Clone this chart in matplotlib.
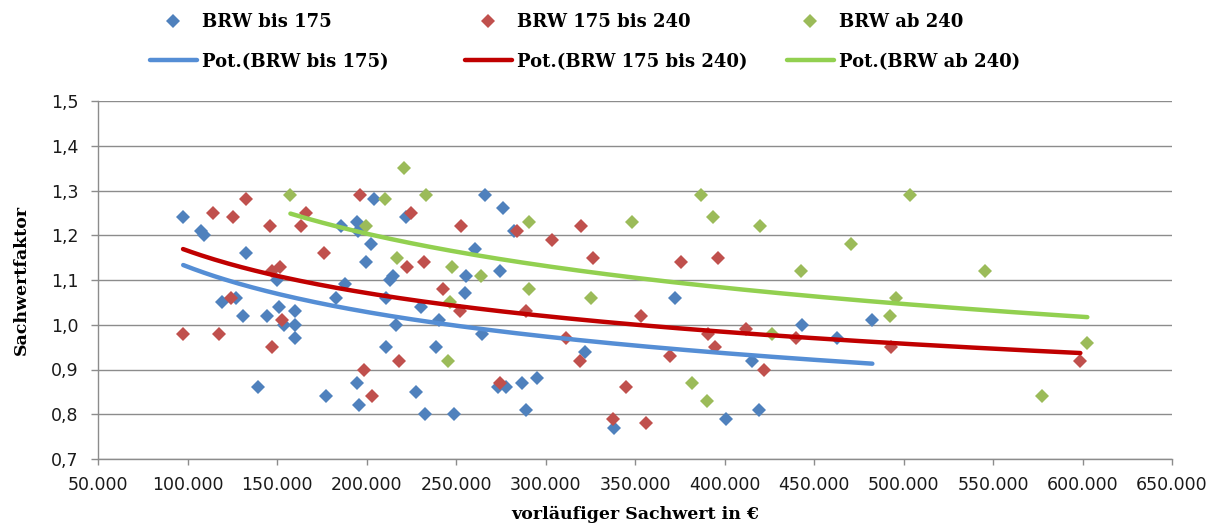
import numpy as np
import matplotlib
matplotlib.use("Agg")
from matplotlib import pyplot as plt
from matplotlib.ticker import FixedLocator, FuncFormatter

# BRW bis 175
x_bis175 = [97600, 107800, 109000, 132900, 150200, 119300, 127300, 131000, 144600, 151000,
            153700, 139400, 159900, 159900, 159900, 177600, 185600, 183200, 187800, 194700,
            195300, 202700, 199900, 194700, 195600, 204000, 210700, 213000, 214800, 216300,
            210700, 227900, 232500, 221900, 230700, 239000, 240500, 248700, 255400, 254900,
            260800, 266400, 276300, 282400, 274400, 264500, 273500, 277800, 287100, 295500,
            289300, 321900, 338100, 372600, 401100, 415600, 419100, 443500, 462900, 482600]
y_bis175 = [1.24, 1.21, 1.20, 1.16, 1.10, 1.05, 1.06, 1.02, 1.02, 1.04,
            1.00, 0.86, 1.03, 1.00, 0.97, 0.84, 1.22, 1.06, 1.09, 1.23,
            1.21, 1.18, 1.14, 0.87, 0.82, 1.28, 1.06, 1.10, 1.11, 1.00,
            0.95, 0.85, 0.80, 1.24, 1.04, 0.95, 1.01, 0.80, 1.11, 1.07,
            1.17, 1.29, 1.26, 1.21, 1.12, 0.98, 0.86, 0.86, 0.87, 0.88,
            0.81, 0.94, 0.77, 1.06, 0.79, 0.92, 0.81, 1.00, 0.97, 1.01]

# BRW 175 bis 240
x_175_240 = [97500, 117600, 114300, 125400, 132900, 146300, 124500, 147400, 151500, 153000,
             147200, 166400, 163600, 176300, 196200, 198400, 203100, 224700, 222800, 232000,
             218200, 242700, 253000, 252100, 284300, 303600, 320000, 326500, 289300, 311700,
             319100, 274400, 337700, 345200, 356400, 353600, 375500, 396400, 369800, 390800,
             394500, 411800, 421900, 440100, 493200, 598800]
y_175_240 = [0.98, 0.98, 1.25, 1.24, 1.28, 1.22, 1.06, 1.12, 1.13, 1.01,
             0.95, 1.25, 1.22, 1.16, 1.29, 0.90, 0.84, 1.25, 1.13, 1.14,
             0.92, 1.08, 1.22, 1.03, 1.21, 1.19, 1.22, 1.15, 1.03, 0.97,
             0.92, 0.87, 0.79, 0.86, 0.78, 1.02, 1.14, 1.15, 0.93, 0.98,
             0.95, 0.99, 0.90, 0.97, 0.95, 0.92]

# BRW ab 240
x_ab240 = [157500, 221000, 210200, 233500, 199900, 217300, 248000, 246500, 245500, 290800,
           348300, 263800, 290800, 325600, 387100, 393600, 420000, 470500, 442900, 381800,
           390200, 426700, 503500, 545400, 495600, 492700, 577400, 602700]
y_ab240 = [1.29, 1.35, 1.28, 1.29, 1.22, 1.15, 1.13, 1.05, 0.92, 1.23,
           1.23, 1.11, 1.08, 1.06, 1.29, 1.24, 1.22, 1.18, 1.12, 0.87,
           0.83, 0.98, 1.29, 1.12, 1.06, 1.02, 0.84, 0.96]

labels = ["BRW bis 175", "BRW 175 bis 240", "BRW ab 240"]
marker_colors = ["#4F81BD", "#C0504D", "#9BBB59"]
trend_colors = ["#558ED5", "#C00000", "#92D050"]

x_ticks = np.arange(50000, 650001, 50000)
y_ticks = np.arange(0.7, 1.501, 0.1)

grid_color = "#8C8C8C"
serif = "DejaVu Serif"

fig = plt.figure(figsize=(12.16, 5.28), dpi=100)
ax = fig.add_axes([98 / 1216, 1 - 459 / 528, (1172 - 98) / 1216, (459 - 101) / 528])

series = [(x_bis175, y_bis175), (x_175_240, y_175_240), (x_ab240, y_ab240)]
handles = []
for (xs, ys), lab, mc, tc in zip(series, labels, marker_colors, trend_colors):
    xs = np.array(xs, dtype=float)
    ys = np.array(ys, dtype=float)
    pts, = ax.plot(xs, ys, linestyle="none", marker="D", ms=6.8, color=mc,
                   markeredgewidth=0, zorder=2, label=lab)
    # power trend line, like Excel's "Pot."
    b, log_a = np.polyfit(np.log(xs), np.log(ys), 1)
    xf = np.linspace(xs.min(), xs.max(), 200)
    ln, = ax.plot(xf, np.exp(log_a) * xf ** b, color=tc, lw=3.2, zorder=3,
                  solid_capstyle="round", label="Pot.(" + lab + ")")
    handles.append((pts, ln))

ax.set_xlim(50000, 650000)
ax.set_ylim(0.7, 1.5)
ax.xaxis.set_major_locator(FixedLocator(x_ticks))
ax.yaxis.set_major_locator(FixedLocator(y_ticks))
ax.xaxis.set_major_formatter(FuncFormatter(lambda v, p: f"{v:,.0f}".replace(",", ".")))
ax.yaxis.set_major_formatter(FuncFormatter(lambda v, p: f"{v:.1f}".replace(".", ",")))

ax.grid(axis="y", color=grid_color, lw=1.0, zorder=0)
ax.set_axisbelow(True)
for side in ["top", "right"]:
    ax.spines[side].set_visible(False)
for side in ["left", "bottom"]:
    ax.spines[side].set_color(grid_color)
    ax.spines[side].set_linewidth(1.0)
ax.tick_params(axis="x", direction="out", length=4.5, width=1.0, color=grid_color,
               labelsize=12.5, pad=8, labelcolor="#1a1a1a")
ax.tick_params(axis="y", direction="out", length=5, width=1.0, color=grid_color,
               labelsize=12.5, pad=9, labelcolor="#1a1a1a")

ax.set_xlabel("vorläufiger Sachwert in €", family=serif, fontweight="bold", fontsize=12.5)
ax.xaxis.set_label_coords(0.5, -0.132)
ax.set_ylabel("Sachwertfaktor", family=serif, fontweight="bold", fontsize=12.5)
ax.yaxis.set_label_coords(-0.063, 0.5)

# three legend columns above the plot
col_x = [150, 465, 787]
for (pts, ln), cx in zip(handles, col_x):
    leg = fig.legend([pts, ln], [pts.get_label(), ln.get_label()], loc="upper left",
                     bbox_to_anchor=(cx / 1216, 1 - 13 / 528), frameon=False,
                     borderpad=0, borderaxespad=0, handlelength=2.6, handletextpad=0.3,
                     labelspacing=1.2, numpoints=1,
                     prop={"family": serif, "weight": "bold", "size": 13})

fig.savefig("out.png", dpi=100)
